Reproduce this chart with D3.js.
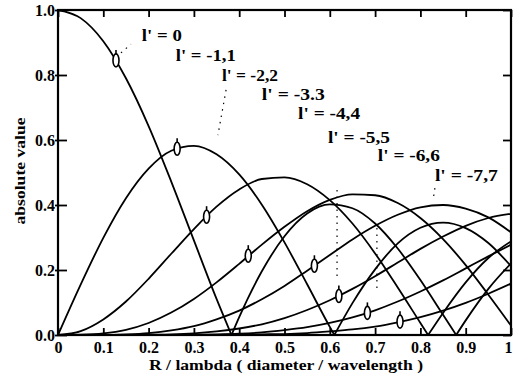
<!DOCTYPE html>
<html>
<head>
<meta charset="utf-8">
<script src="https://cdn.jsdelivr.net/npm/d3@7"></script>
<style>
body { margin: 0; background: #fff; }
svg text { font-family: "Liberation Serif", "Times New Roman", serif; font-weight: bold; fill: #000; }
</style>
</head>
<body>
<script>
// sample positions along R / lambda
var xs = [0, 0.05, 0.1, 0.15, 0.2, 0.25, 0.3, 0.35, 0.4, 0.45, 0.5,
          0.55, 0.6, 0.65, 0.7, 0.75, 0.8, 0.85, 0.9, 0.95, 1];

// absolute values
var j0 = [1.000, 0.975, 0.904, 0.790, 0.643, 0.472, 0.291, 0.111, 0.055, 0.196, 0.304,
          0.374, 0.402, 0.390, 0.343, 0.266, 0.169, 0.062, 0.045, 0.142, 0.220];
var j1 = [0, 0.155, 0.299, 0.421, 0.512, 0.567, 0.582, 0.556, 0.494, 0.401, 0.285,
          0.156, 0.025, 0.098, 0.202, 0.282, 0.330, 0.346, 0.329, 0.283, 0.212];
var j2 = [0, 0.012, 0.048, 0.103, 0.173, 0.250, 0.326, 0.395, 0.448, 0.480, 0.485,
          0.464, 0.415, 0.343, 0.251, 0.146, 0.037, 0.068, 0.162, 0.237, 0.288];
var j3 = [0, 0.001, 0.005, 0.016, 0.037, 0.069, 0.111, 0.162, 0.219, 0.278, 0.333,
          0.381, 0.416, 0.433, 0.430, 0.406, 0.360, 0.295, 0.215, 0.124, 0.029];
var j4 = [0, 0, 0, 0.002, 0.006, 0.014, 0.027, 0.048, 0.075, 0.110, 0.151,
          0.198, 0.246, 0.294, 0.336, 0.370, 0.393, 0.400, 0.389, 0.362, 0.316];
var j5 = [0, 0, 0, 0, 0.001, 0.002, 0.005, 0.011, 0.020, 0.033, 0.052,
          0.077, 0.107, 0.142, 0.181, 0.223, 0.265, 0.303, 0.336, 0.360, 0.373];
var j6 = [0, 0, 0, 0, 0, 0, 0.001, 0.002, 0.004, 0.008, 0.015,
          0.024, 0.037, 0.054, 0.076, 0.103, 0.134, 0.168, 0.205, 0.242, 0.278];
var j7 = [0, 0, 0, 0, 0, 0, 0, 0, 0.001, 0.002, 0.003,
          0.006, 0.011, 0.017, 0.026, 0.039, 0.055, 0.075, 0.099, 0.127, 0.158];
var series = [j0, j1, j2, j3, j4, j5, j6, j7];

// where a curve touches zero (cusp)
var zeros = [[0.383, 0.879], [0.610], [0.817], [], [], [], [], []];

// the little open markers on each curve
var markerX = [0.128, 0.263, 0.328, 0.420, 0.566, 0.620, 0.683, 0.755];
var markerY = [0.845, 0.573, 0.364, 0.244, 0.213, 0.120, 0.068, 0.041];

var labels = ["l' = 0", "l' = -1,1", "l' = -2,2", "l' = -3.3",
              "l' = -4,4", "l' = -5,5", "l' = -6,6", "l' = -7,7"];

var xTicks = [0, 0.1, 0.2, 0.3, 0.4, 0.5, 0.6, 0.7, 0.8, 0.9, 1];
var xTickLabels = ['0', '0.1', '0.2', '0.3', '0.4', '0.5', '0.6', '0.7', '0.8', '0.9', '1'];
var yTicks = [0, 0.2, 0.4, 0.6, 0.8, 1];
var yTickLabels = ['0.0', '0.2', '0.4', '0.6', '0.8', '1.0'];

var w = 513,
    h = 383;

var svg = d3.select('body')
  .append('svg')
  .attr('width', w)
  .attr('height', h);

var x = d3.scaleLinear().domain([0, 1]).range([58, 511]);
var y = d3.scaleLinear().domain([0, 1]).range([335, 10]);

// label placement (data units: start x, baseline y) and drawn widths
var labelAt = [[0.185, 0.905], [0.260, 0.843], [0.362, 0.782], [0.450, 0.723],
               [0.530, 0.665], [0.596, 0.591], [0.706, 0.535], [0.832, 0.474]];
var labelLen = [40, 60, 56, 63, 62, 62, 62, 63];

// dotted leaders from labels down to markers
var leaders = [[0.139, 0.868, 0.161, 0.895],
               [0.371, 0.754, 0.353, 0.615],
               [0.616, 0.446, 0.616, 0.169],
               [0.704, 0.329, 0.704, 0.132],
               [0.832, 0.452, 0.828, 0.415]];

svg.append('clipPath').attr('id', 'plot')
  .append('rect')
  .attr('x', x(0)).attr('y', y(1))
  .attr('width', x(1) - x(0)).attr('height', y(0) - y(1));

var line = d3.line()
  .x(function(d) { return x(d[0]); })
  .y(function(d) { return y(d[1]); })
  .curve(d3.curveMonotoneX);

var curves = svg.append('g').attr('clip-path', 'url(#plot)');

series.forEach(function(vals, l) {
    var pts = xs.map(function(v, i) { return [v, vals[i], false]; });
    zeros[l].forEach(function(z) { pts.push([z, 0, true]); });
    pts.sort(function(a, b) { return a[0] - b[0]; });
    // split into arches at each zero so the cusps stay sharp
    var segs = [[]];
    pts.forEach(function(p) {
        segs[segs.length - 1].push(p);
        if (p[2]) segs.push([p]);
    });
    segs.forEach(function(s) {
        if (s.length < 2) return;
        curves.append('path')
          .attr('d', line(s))
          .attr('fill', 'none')
          .attr('stroke', '#000')
          .attr('stroke-width', 1.8);
    });
});

// leaders
svg.append('g').selectAll('line')
  .data(leaders)
  .enter().append('line')
  .attr('x1', function(d) { return x(d[0]); })
  .attr('y1', function(d) { return y(d[1]); })
  .attr('x2', function(d) { return x(d[2]); })
  .attr('y2', function(d) { return y(d[3]); })
  .attr('stroke', '#000')
  .attr('stroke-width', 1.2)
  .attr('stroke-dasharray', '1.5,5');

// markers
var mk = svg.append('g').selectAll('g')
  .data(markerX)
  .enter().append('g')
  .attr('transform', function(d, i) { return 'translate(' + x(d) + ',' + y(markerY[i]) + ')'; });
mk.append('ellipse')
  .attr('rx', 3)
  .attr('ry', 6.5)
  .attr('fill', '#fff')
  .attr('stroke', '#000')
  .attr('stroke-width', 1.6);
mk.append('line')
  .attr('x1', 0).attr('x2', 0)
  .attr('y1', -6.5).attr('y2', -10.5)
  .attr('stroke', '#000')
  .attr('stroke-width', 1.6);

// labels
svg.append('g').selectAll('text')
  .data(labels)
  .enter().append('text')
  .attr('x', function(d, i) { return x(labelAt[i][0]); })
  .attr('y', function(d, i) { return y(labelAt[i][1]); })
  .attr('font-size', 16)
  .attr('textLength', function(d, i) { return labelLen[i]; })
  .attr('lengthAdjust', 'spacingAndGlyphs')
  .text(function(d) { return d; });

// axes
var bottomAx = svg.append('g')
  .attr('transform', 'translate(0,' + y(0) + ')')
  .call(d3.axisBottom(x)
    .tickValues(xTicks)
    .tickFormat(function(d, i) { return xTickLabels[i]; })
    .tickSizeInner(-7).tickSizeOuter(0).tickPadding(7));
// last label sits on the page edge, nudge it in
bottomAx.selectAll('.tick text').filter(function(d) { return d === 1; }).attr('dx', -3);

var leftAx = svg.append('g')
  .attr('transform', 'translate(' + x(0) + ',0)')
  .call(d3.axisLeft(y)
    .tickValues(yTicks)
    .tickFormat(function(d, i) { return yTickLabels[i]; })
    .tickSizeInner(-9).tickSizeOuter(0).tickPadding(3));
leftAx.selectAll('.tick line').attr('x1', -3);

var topAx = svg.append('g')
  .attr('transform', 'translate(0,' + y(1) + ')')
  .call(d3.axisTop(x).tickValues(xTicks).tickFormat('')
    .tickSizeInner(-7).tickSizeOuter(0));

var rightAx = svg.append('g')
  .attr('transform', 'translate(' + x(1) + ',0)')
  .call(d3.axisRight(y).tickValues(yTicks).tickFormat('')
    .tickSizeInner(-8).tickSizeOuter(0));

[bottomAx, leftAx, topAx, rightAx].forEach(function(g) {
    g.select('.domain').remove();
    g.attr('font-family', null).attr('font-size', 16);
    g.selectAll('.tick line').attr('stroke', '#000').attr('stroke-width', 1.8);
});

svg.append('rect')
  .attr('x', x(0)).attr('y', y(1))
  .attr('width', x(1) - x(0)).attr('height', y(0) - y(1))
  .attr('fill', 'none')
  .attr('stroke', '#000')
  .attr('stroke-width', 2.2);

// axis titles
svg.append('text')
  .attr('x', 286).attr('y', 370)
  .attr('text-anchor', 'middle')
  .attr('font-size', 15)
  .attr('textLength', 274)
  .attr('lengthAdjust', 'spacingAndGlyphs')
  .text('R / lambda ( diameter / wavelength )');

svg.append('text')
  .attr('transform', 'translate(25,171) rotate(-90)')
  .attr('text-anchor', 'middle')
  .attr('font-size', 15)
  .attr('textLength', 107)
  .attr('lengthAdjust', 'spacingAndGlyphs')
  .text('absolute value');
</script>
</body>
</html>
